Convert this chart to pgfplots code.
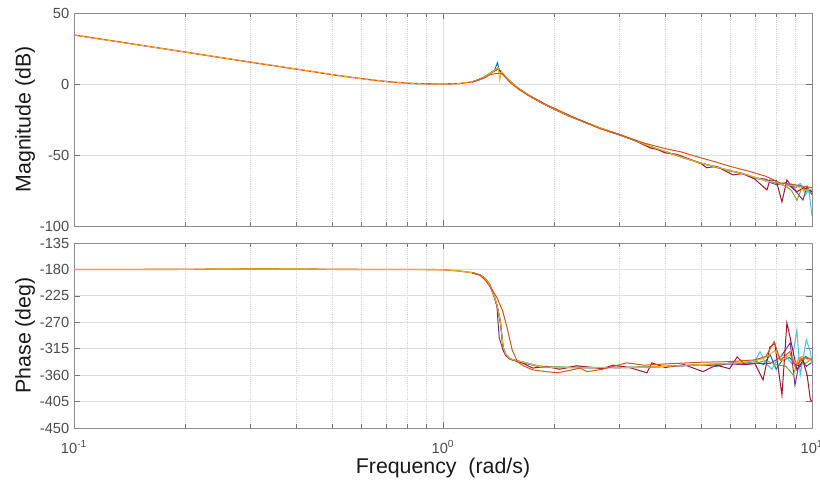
\documentclass[border=0pt]{standalone}
\usepackage{fontspec}
\setmainfont{Liberation Sans}
\usepackage{pgfplots}
\pgfplotsset{compat=1.18}
\definecolor{mblue}{HTML}{0072BD}
\definecolor{morange}{HTML}{D95319}
\definecolor{myellow}{HTML}{EDB120}
\definecolor{mpurple}{HTML}{7E2F8E}
\definecolor{mgreen}{HTML}{77AC30}
\definecolor{mcyan}{HTML}{4DBEEE}
\definecolor{mred}{HTML}{A2142F}
\begin{document}
\begin{tikzpicture}
\useasboundingbox (0,0) rectangle (615pt,364.5pt);
% ---------------- Magnitude ----------------
\begin{axis}[
  xmode=log, xmin=0.1, xmax=10,
  scale only axis, width=553.5pt, height=159.75pt,
  at={(55.5pt,195pt)}, anchor=south west,
  axis line style={draw=black!45},
  tick style={draw=black!55, line width=0.5pt},
  tick align=inside,
  xtick pos=both, ytick pos=both,
  major tick length=4.5pt, minor tick length=3pt,
  xmajorgrids, xminorgrids, ymajorgrids,
  major grid style={draw=black!13, line width=0.6pt},
  minor grid style={draw=black!16, densely dotted, line width=0.4pt},
  yticklabel style={font=\fontsize{11}{13}\selectfont, text=black!70},
  ylabel style={font=\fontsize{16}{19}\selectfont, text=black!90, at={(axis description cs:0,0.5)}, yshift=36.75pt, anchor=center},
  ymin=-100, ymax=50, ytick={-100,-50,0,50}, yticklabels={-100,-50,0,50},
  xtick={0.1,1,10}, xticklabels={}, ylabel={Magnitude (dB)}]
% common low-frequency part
\addplot[morange, line width=1pt, mark=none] table {
0.1 34.5
0.15 27.5
0.2 22.5
0.25 18.6
0.3 15.4
0.35 12.8
0.4 10.5
0.45 8.5
0.5 6.6
0.55 5.1
0.6 3.8
0.65 2.7
0.7 1.8
0.75 1.1
0.8 0.6
0.85 0.25
0.9 0.1
1.0 0
1.1 0.2
1.2 1.5
};
\addplot[myellow, line width=0.75pt, dash pattern=on 3pt off 2pt, mark=none] table {
0.1 34.5
0.15 27.5
0.2 22.5
0.25 18.6
0.3 15.4
0.35 12.8
0.4 10.5
0.45 8.5
0.5 6.6
0.55 5.1
0.6 3.8
0.65 2.7
0.7 1.8
0.75 1.1
0.8 0.6
0.85 0.25
0.9 0.1
1.0 0
1.1 0.2
1.2 1.5
};
% blue
\addplot[mblue, line width=0.75pt, mark=none] table {
1.2 1.5
1.25 3.1
1.3 5.2
1.34 7.6
1.38 9.8
1.405 15
1.42 10
1.45 7.5
1.48 5
1.52 2
1.6 -3.2
1.7 -7.6
1.83 -12.6
2.0 -17.4
2.2 -22.6
2.4 -26.4
2.67 -31.2
3.0 -35.4
3.3 -39.8
3.64 -43.8
4.0 -47.8
4.5 -51.8
5.0 -56
5.5 -58.2
6.0 -61.5
6.4 -62.5
7.0 -66.5
7.5 -67.5
7.8 -70
8.0 -69
8.5 -72
8.8 -70.5
9.0 -73
9.3 -71.5
9.6 -75
10 -77
};
% purple
\addplot[mpurple, line width=0.75pt, mark=none] table {
1.2 1.5
1.25 3
1.3 5
1.34 7.4
1.38 9.4
1.41 10.8
1.44 8.2
1.47 5.4
1.52 1.8
1.6 -3
1.7 -7.4
1.83 -12.4
2.0 -17.6
2.2 -22.4
2.4 -26.6
2.67 -31
3.0 -35.6
3.3 -39.4
3.64 -44.2
4.0 -47.4
4.5 -52.2
5.0 -55.6
5.5 -58.8
6.0 -60.8
6.4 -63
7.0 -66
7.5 -67
8.0 -71
8.5 -69.5
9.0 -75
9.45 -81.7
9.7 -72
10 -78
};
% green
\addplot[mgreen, line width=0.75pt, mark=none] table {
1.2 1.5
1.25 3
1.3 5.1
1.34 7.5
1.38 9.6
1.41 11.5
1.44 8.1
1.47 5.6
1.52 2.1
1.6 -2.9
1.7 -7.5
1.83 -12.5
2.0 -17.5
2.2 -22.4
2.4 -26.5
2.67 -30.9
3.0 -35.6
3.3 -39.6
3.64 -44
4.0 -47.6
4.5 -51.9
5.0 -55.9
5.5 -58.4
6.0 -61.2
6.4 -62.6
7.0 -65.8
7.5 -68.2
8.0 -69.6
8.5 -72
8.8 -75
9.1 -82
9.4 -73
10 -77
};
% cyan
\addplot[mcyan, line width=0.75pt, mark=none] table {
1.2 1.5
1.25 3
1.3 5
1.34 7.5
1.38 9.5
1.41 11.2
1.44 8
1.47 5.5
1.52 2
1.6 -3.1
1.7 -7.6
1.83 -12.4
2.0 -17.5
2.2 -22.5
2.4 -26.6
2.67 -31.1
3.0 -35.5
3.3 -39.5
3.64 -44.1
4.0 -47.5
4.5 -52.1
5.0 -55.7
5.5 -58.6
6.0 -61
6.4 -62.8
7.0 -66.2
7.5 -67.8
8.0 -70.2
8.5 -70
9.0 -73
9.3 -70
9.6 -78
9.8 -74
10 -93
};
% dark red
\addplot[mred, line width=0.75pt, mark=none] table {
1.2 1.5
1.25 3
1.3 5
1.34 7.3
1.38 9.2
1.41 10.5
1.44 8
1.47 5.3
1.52 1.8
1.6 -3.3
1.7 -7.7
1.83 -12.7
2.0 -17.7
2.2 -22.8
2.4 -26.3
2.67 -31.3
3.0 -35.8
3.3 -39.6
3.64 -45
3.8 -46
4.0 -48.5
4.3 -49.5
5.0 -56
5.19 -59
5.5 -58
6.11 -64
6.5 -63
7.0 -67
7.55 -74.6
7.69 -67.6
8.0 -68
8.29 -83
8.55 -67.6
8.8 -72
9.1 -75.8
9.5 -73
9.88 -74.6
10 -76
};
% yellow
\addplot[myellow, line width=0.75pt, mark=none] table {
1.2 1.5
1.25 3
1.3 5
1.34 7.5
1.38 9.6
1.41 11.5
1.425 3
1.44 9
1.47 5.5
1.52 2
1.6 -3
1.7 -7.5
1.83 -12.5
2.0 -17.5
2.2 -22.5
2.4 -26.5
2.67 -31
3.0 -35.5
3.3 -39.5
3.64 -44
4.0 -47.5
4.5 -52
5.0 -55.8
5.5 -58.5
6.0 -61
6.4 -62.7
7.0 -65.5
7.5 -68.5
8.0 -69
8.5 -72
9.0 -71
9.5 -75
10 -74
};
% orange (model)
\addplot[morange, line width=0.75pt, mark=none] table {
1.2 1.4
1.25 2.8
1.3 4.5
1.34 6.5
1.38 7.2
1.42 7.5
1.45 7
1.48 4.5
1.52 1
1.6 -3.5
1.7 -8
1.83 -12
1.9 -14.5
2.0 -17
2.2 -22
2.5 -28.5
2.67 -31.5
3.0 -35.5
3.5 -41.5
4.0 -45.5
4.4 -47.7
5.0 -52
5.5 -55
6.0 -58
6.8 -61.7
7.5 -65
8.2 -69.7
9.0 -71
10 -73
};
\end{axis}
% ---------------- Phase ----------------
\begin{axis}[
  xmode=log, xmin=0.1, xmax=10,
  scale only axis, width=553.5pt, height=138.75pt,
  at={(55.5pt,43.5pt)}, anchor=south west,
  axis line style={draw=black!45},
  tick style={draw=black!55, line width=0.5pt},
  tick align=inside,
  xtick pos=both, ytick pos=both,
  major tick length=4.5pt, minor tick length=3pt,
  xmajorgrids, xminorgrids, ymajorgrids,
  major grid style={draw=black!13, line width=0.6pt},
  minor grid style={draw=black!16, densely dotted, line width=0.4pt},
  yticklabel style={font=\fontsize{11}{13}\selectfont, text=black!70},
  xticklabel style={font=\fontsize{11}{13}\selectfont, text=black!70, yshift=-6pt},
  ymin=-450, ymax=-135,
  ytick={-450,-405,-360,-315,-270,-225,-180,-135},
  yticklabels={-450,-405,-360,-315,-270,-225,-180,-135},
  xtick={0.1,1,10},
  xticklabels={10\textsuperscript{-1},10\textsuperscript{0},10\textsuperscript{1}},
  xlabel={Frequency\ \ (rad/s)},
  xlabel style={font=\fontsize{16}{19}\selectfont, text=black!90, at={(axis description cs:0.5,0)}, yshift=-30pt, anchor=center},
  ylabel={Phase (deg)},
  ylabel style={font=\fontsize{16}{19}\selectfont, text=black!90, at={(axis description cs:0,0.5)}, yshift=36.75pt, anchor=center}]
\addplot[morange, line width=1pt, mark=none] table {
0.1 -180
0.15 -180
0.2 -179.8
0.3 -179
0.4 -179.2
0.5 -179.8
0.6 -180
0.8 -180
1.0 -180.5
1.1 -182.5
1.2 -185.5
};
\addplot[myellow, line width=0.75pt, mark=none] table {
0.1 -180
0.15 -180
0.2 -179.8
0.3 -179
0.4 -179.2
0.5 -179.8
0.6 -180
0.8 -180
1.0 -180.5
1.1 -182.5
1.2 -185.5
};
% blue
\addplot[mblue, line width=0.75pt, mark=none] table {
1.2 -185.5
1.26 -189.5
1.3 -195
1.34 -207
1.37 -222
1.40 -241
1.43 -270
1.455 -314
1.48 -326
1.52 -333
1.6 -337
1.65 -339
1.75 -343
1.83 -346
2.0 -347
2.5 -347.5
3.0 -346.5
3.4 -347
4.0 -345
4.5 -344
5.0 -342
5.5 -345
6.0 -339
6.5 -341
7.0 -336
7.4 -342
7.7 -325
8.0 -350
8.3 -335
8.7 -330
9.0 -342
9.3 -345
9.6 -328
10 -335
};
% purple
\addplot[mpurple, line width=0.75pt, mark=none] table {
1.2 -185.5
1.26 -189.5
1.3 -195
1.34 -206
1.37 -220
1.40 -243
1.42 -296
1.455 -318
1.48 -327
1.52 -333
1.6 -336
1.65 -338
1.75 -342
1.83 -345
2.0 -346.5
2.5 -347
3.0 -347.5
3.4 -346.5
4.0 -345.5
5.0 -342.5
6.0 -341
6.5 -342
7.0 -340
7.7 -340
8.2 -330
8.73 -305
8.99 -377
9.29 -330
9.65 -345
10 -338
};
% green
\addplot[mgreen, line width=0.75pt, mark=none] table {
1.2 -185.5
1.26 -189.5
1.3 -195
1.34 -207
1.37 -222
1.40 -240
1.43 -267
1.455 -311
1.48 -324
1.52 -332
1.6 -336
1.65 -338
1.75 -342
1.83 -344.5
2.0 -346
2.5 -346.5
3.0 -347
3.4 -346
4.0 -345
5.0 -342
6.0 -340
7.0 -340
7.5 -335
8.0 -342
8.5 -345
8.9 -360
9.2 -330
9.6 -340
10 -332
};
% cyan
\addplot[mcyan, line width=0.75pt, mark=none] table {
1.2 -185.5
1.26 -189.5
1.3 -195
1.34 -207
1.37 -222
1.40 -240
1.43 -268
1.455 -312
1.48 -325
1.52 -332
1.6 -336
1.65 -338
1.75 -342
1.83 -345.5
2.0 -347
2.5 -347
3.0 -347
3.4 -347
4.0 -345
5.0 -342
6.0 -340
7.0 -337
7.23 -320
7.5 -340
7.79 -350
8.1 -330
8.44 -325
8.8 -340
9.1 -283
9.29 -360
9.65 -300
9.9 -320
10 -340
};
% dark red
\addplot[mred, line width=0.75pt, mark=none] table {
1.2 -185.5
1.26 -189.5
1.3 -195
1.34 -207
1.37 -223
1.40 -241
1.43 -269
1.455 -313
1.48 -326
1.52 -332
1.6 -337
1.65 -340
1.75 -348
1.9 -345
2.07 -350
2.3 -344
2.71 -349
2.89 -343
3.2 -347
3.57 -356
3.68 -339
4.0 -347
4.5 -342
5.06 -354
5.5 -343
5.98 -349
6.27 -329
6.58 -342
7.0 -340
7.37 -368
7.69 -312
7.93 -306
8.29 -394
8.55 -271
8.75 -300
8.89 -320
9.10 -351
9.45 -335
9.7 -360
9.9 -402
10 -405
};
% yellow
\addplot[myellow, line width=0.75pt, mark=none] table {
1.2 -185.5
1.26 -189.5
1.3 -195
1.34 -207
1.37 -222
1.40 -240
1.43 -268
1.455 -312
1.48 -325
1.52 -332
1.6 -336
1.65 -338
1.75 -342
1.83 -345.5
2.0 -347
2.5 -347
3.0 -347
3.4 -347
4.0 -345
5.0 -342
6.0 -340
7.0 -336
7.5 -330
7.93 -318
8.3 -335
8.73 -325
9.0 -340
9.4 -328
9.8 -335
10 -330
};
% orange (model)
\addplot[morange, line width=0.75pt, mark=none] table {
1.2 -186
1.26 -190
1.3 -198
1.35 -212
1.4 -228
1.45 -250
1.49 -278
1.54 -317
1.59 -337
1.65 -344
1.75 -351
1.9 -354
2.04 -356
2.2 -352
2.35 -348
2.46 -354
2.7 -350
3.15 -339
3.5 -343
4 -341
5 -338
6 -337
7 -334
7.5 -328
7.9 -303
8.2 -335
8.7 -320
9.0 -345
9.5 -330
10 -333
};
\end{axis}
\end{tikzpicture}
\end{document}
